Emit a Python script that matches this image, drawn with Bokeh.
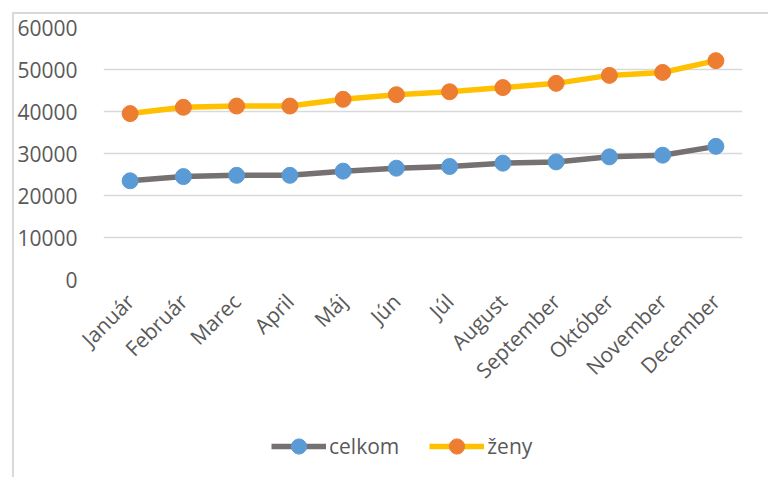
from bokeh.plotting import figure
from bokeh.layouts import column
from bokeh.models import Range1d, FactorRange, Legend, LegendItem, SingleIntervalTicker, NumeralTickFormatter
from bokeh.embed import file_html
from bokeh.resources import INLINE
from math import pi

months = ["Január", "Február", "Marec", "April", "Máj", "Jún", "Júl",
          "August", "September", "Október", "November", "December"]
celkom = [23500, 24500, 24800, 24800, 25800, 26500, 26900, 27700, 28000, 29200, 29600, 31700]
zeny = [39500, 41000, 41300, 41300, 42900, 44000, 44700, 45700, 46700, 48600, 49300, 52100]
series_names = ["celkom", "ženy"]

FONT = "Open Sans"
TXT = "#595959"
LINE_COLORS = ["#767171", "#FFC000"]
MARK_COLORS = ["#5B9BD5", "#ED7D31"]

p = figure(x_range=FactorRange(*months, range_padding=0), y_range=Range1d(0, 60000),
           width=754, height=386, output_backend="svg", toolbar_location=None,
           min_border_left=85, min_border_top=13, min_border_right=26, min_border_bottom=121)
p.outline_line_color = None
p.background_fill_color = "white"
p.border_fill_color = "white"

p.xgrid.grid_line_color = None
p.ygrid.grid_line_color = "#d9d9d9"
p.ygrid.grid_line_width = 1.5

p.yaxis.ticker = SingleIntervalTicker(interval=10000)
p.yaxis.formatter = NumeralTickFormatter(format="0")
for ax in (p.xaxis, p.yaxis):
    ax.axis_line_color = None
    ax.major_tick_line_color = None
    ax.minor_tick_line_color = None
    ax.major_label_text_font = FONT
    ax.major_label_text_font_size = "21px"
    ax.major_label_text_color = TXT
p.yaxis.major_label_standoff = 20
p.xaxis.major_label_orientation = pi / 4
p.xaxis.major_label_standoff = 12

for vals, lc, mc in zip([celkom, zeny], LINE_COLORS, MARK_COLORS):
    p.line(months, vals, line_color=lc, line_width=5.5)
    p.scatter(months, vals, size=16, fill_color=mc, line_color=mc)

# legend strip below the chart: same series, drawn out of view, only the legend shows
p2 = figure(width=754, height=77, output_backend="svg", toolbar_location=None,
            x_range=FactorRange(*months), y_range=Range1d(200000, 200001),
            x_axis_type=None, y_axis_type=None, min_border=0)
p2.outline_line_color = None
p2.xgrid.grid_line_color = None
p2.ygrid.grid_line_color = None
items = []
for name, vals, lc, mc in zip(series_names, [celkom, zeny], LINE_COLORS, MARK_COLORS):
    r1 = p2.line(months, vals, line_color=lc, line_width=5.5)
    r2 = p2.scatter(months, vals, size=16, fill_color=mc, line_color=mc)
    items.append(LegendItem(label=name, renderers=[r1, r2], index=0))

legend = Legend(items=items, location=(168, 12), orientation="horizontal",
                glyph_width=55, glyph_height=38, label_standoff=3, spacing=30,
                padding=0, margin=0, border_line_color=None, background_fill_alpha=0,
                label_text_font=FONT, label_text_font_size="21px", label_text_color=TXT)
p2.add_layout(legend, "center")

layout = column(p, p2, spacing=0, margin=(12, 0, 0, 12),
                styles={"border-left": "2px solid #d9d9d9", "border-top": "2px solid #d9d9d9"})

open("out.html", "w").write(file_html(layout, INLINE))
